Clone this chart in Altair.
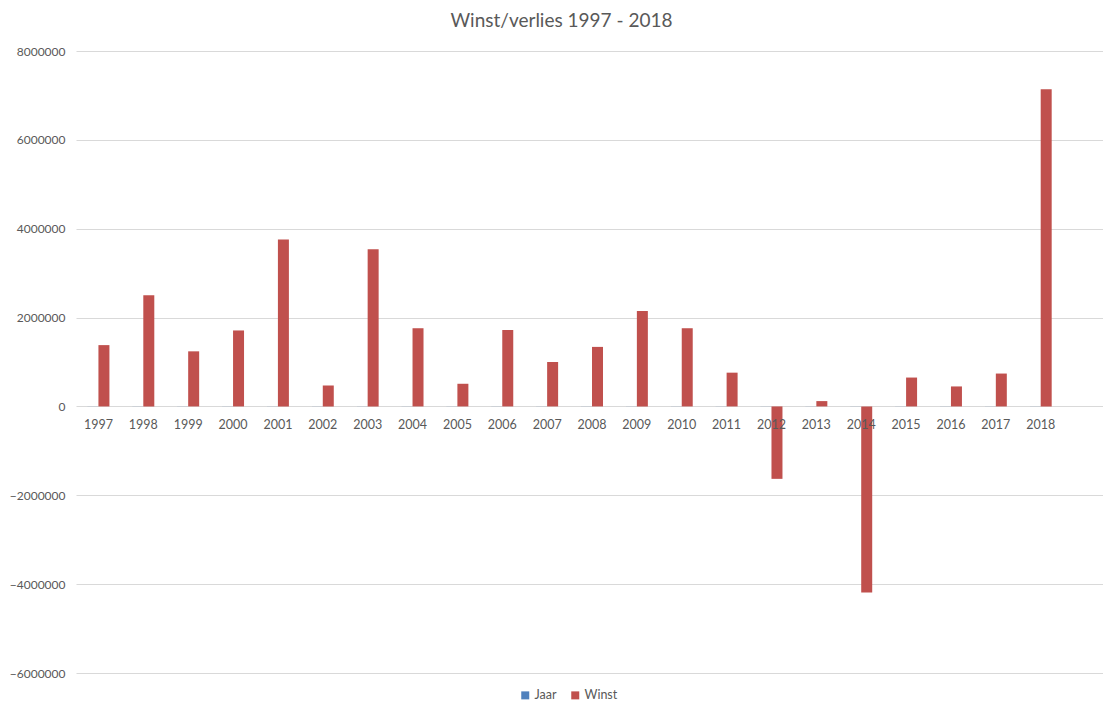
import altair as alt
import pandas as pd

years = [str(y) for y in range(1997, 2019)]
jaar = list(range(1997, 2019))
winst = [1380000, 2500000, 1240000, 1710000, 3760000, 470000, 3540000, 1760000,
         510000, 1720000, 1000000, 1340000, 2150000, 1760000, 760000, -1630000,
         120000, -4190000, 650000, 450000, 740000, 7140000]
series = ["Jaar", "Winst"]
colors = ["#4F81BD", "#C0504D"]
y_ticks = [-6000000, -4000000, -2000000, 0, 2000000, 4000000, 6000000, 8000000]
x_domain = years + [" "]

rows = []
for y, j, w in zip(years, jaar, winst):
    rows.append({"Jaar_label": y, "Reeks": "Jaar", "Waarde": j})
    rows.append({"Jaar_label": y, "Reeks": "Winst", "Waarde": w})
df = pd.DataFrame(rows)
labels = pd.DataFrame({"Jaar_label": years})

FONT = "Lato"
GREY = "#595959"

xscale = alt.Scale(domain=x_domain, range=[0, 1032], paddingInner=0.51, paddingOuter=0.255)
yscale = alt.Scale(domain=[-6000000, 8000000], nice=False)

bars = alt.Chart(df).mark_bar().encode(
    x=alt.X("Jaar_label:N", scale=xscale, axis=None),
    xOffset=alt.XOffset("Reeks:N", scale=alt.Scale(domain=series)),
    y=alt.Y("Waarde:Q", scale=yscale,
            axis=alt.Axis(values=y_ticks, format="d", title=None, domain=False, ticks=False,
                          gridColor="#d9d9d9", gridWidth=1, labelPadding=11,
                          labelFontSize=12, labelColor=GREY, labelFont=FONT)),
    color=alt.Color("Reeks:N", scale=alt.Scale(domain=series, range=colors),
                    legend=alt.Legend(title=None, orient="none", legendX=443, legendY=638,
                                      direction="horizontal", symbolType="square",
                                      symbolSize=64, symbolStrokeWidth=0, symbolOpacity=1,
                                      labelFontSize=12.5, labelColor=GREY, labelFont=FONT,
                                      columnPadding=12, labelOffset=3)),
)

text = alt.Chart(labels).mark_text(dy=19, fontSize=12.5, color=GREY, font=FONT).encode(
    x=alt.X("Jaar_label:N", scale=xscale, axis=None),
    y=alt.datum(0),
    text="Jaar_label:N",
)

chart = alt.layer(bars, text).properties(
    width=1027, height=622,
    title=alt.Title("Winst/verlies 1997 - 2018", fontSize=19, font=FONT, color=GREY,
                    fontWeight="normal", offset=14, dx=-28),
    autosize=alt.AutoSizeParams(type="none"),
    padding={"left": 68, "top": 43, "right": 0, "bottom": 30},
).configure_view(stroke=None)

chart.save("out.html", embed_options={"renderer": "svg", "actions": False})
